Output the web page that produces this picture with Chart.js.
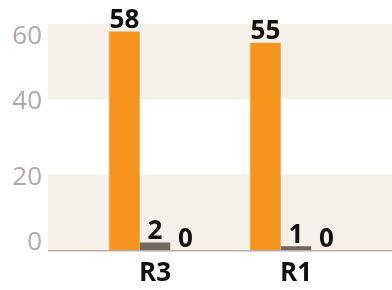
<!DOCTYPE html>
<html lang="en">
<head>
    <meta charset="UTF-8">
    <script src="https://cdn.jsdelivr.net/npm/chart.js@4.4.0/dist/chart.umd.min.js"></script>
    <title>R3 / R1</title>
    <style>
        body { margin: 0; background: #fff; }
        #wrap { width: 392px; height: 290px; }
    </style>
</head>
<body>
<div id="wrap"><canvas id="myChart"></canvas></div>

<script>
    // donnees
    let categories = ['R3', 'R1'];
    let serieA = [58, 55];
    let serieB = [2, 1];
    let serieC = [0, 0];
    let yTicks = [0, 20, 40, 60];

    Chart.defaults.font.family = 'Open Sans';

    // bandes de fond + ligne de base + etiquettes
    let decor = {
        id: 'decor',
        beforeDatasetsDraw(chart) {
            let ctx = chart.ctx;
            let y = chart.scales.y;
            let area = chart.chartArea;
            ctx.save();
            ctx.fillStyle = '#f5f0ea';
            for (let i = 0; i < yTicks.length - 1; i += 2) {
                let y0 = y.getPixelForValue(yTicks[i]);
                let y1 = y.getPixelForValue(yTicks[i + 1]);
                ctx.fillRect(48, y1, chart.width - 48, y0 - y1);
            }
            // etiquettes axe y
            ctx.fillStyle = '#b0a8a5';
            ctx.font = '26px "Open Sans"';
            ctx.textAlign = 'right';
            ctx.textBaseline = 'alphabetic';
            yTicks.forEach(v => {
                let py = y.getPixelForValue(v) + 10;
                py = Math.min(Math.max(py, area.top + 20), area.bottom);
                ctx.fillText(String(v), 42, py);
            });
            ctx.restore();
        },
        afterDatasetsDraw(chart) {
            let ctx = chart.ctx;
            let area = chart.chartArea;
            ctx.save();
            ctx.strokeStyle = '#b5aeaa';
            ctx.lineWidth = 1.5;
            ctx.beginPath();
            ctx.moveTo(48, area.bottom + 0.75);
            ctx.lineTo(chart.width, area.bottom + 0.75);
            ctx.stroke();

            ctx.fillStyle = '#111';
            ctx.font = 'bold 26px "Open Sans"';
            ctx.textAlign = 'center';
            ctx.textBaseline = 'alphabetic';
            chart.data.datasets.forEach((ds, i) => {
                chart.getDatasetMeta(i).data.forEach((bar, j) => {
                    ctx.fillText(String(ds.data[j]), bar.x, bar.y - 3.5);
                });
            });
            ctx.restore();
        }
    };

    let content = document.querySelector('#myChart').getContext('2d');
    let myChart = new Chart(content, {
        type: 'bar',
        data: {
            labels: categories,
            datasets: [
                { data: serieA, backgroundColor: '#f7941d' },
                { data: serieB, backgroundColor: '#6e6763' },
                { data: serieC, backgroundColor: '#c9c1bb' }
            ]
        },
        options: {
            responsive: true,
            maintainAspectRatio: false,
            animation: false,
            layout: { padding: { top: 24, right: 25.5, left: 0, bottom: 0 } },
            datasets: { bar: { categoryPercentage: 0.65, barPercentage: 1 } },
            plugins: { legend: { display: false }, tooltip: { enabled: false } },
            scales: {
                x: {
                    grid: { display: false, drawTicks: false },
                    border: { display: false },
                    ticks: { color: '#111', font: { size: 26, weight: 'bold' }, padding: 8 },
                    afterFit: scale => { scale.height = 40; }
                },
                y: {
                    min: 0,
                    max: 60,
                    grid: { display: false, drawTicks: false },
                    border: { display: false },
                    ticks: { display: false, stepSize: 20 },
                    afterFit: scale => { scale.width = 84.5; }
                }
            }
        },
        plugins: [decor]
    });
</script>
</body>
</html>
